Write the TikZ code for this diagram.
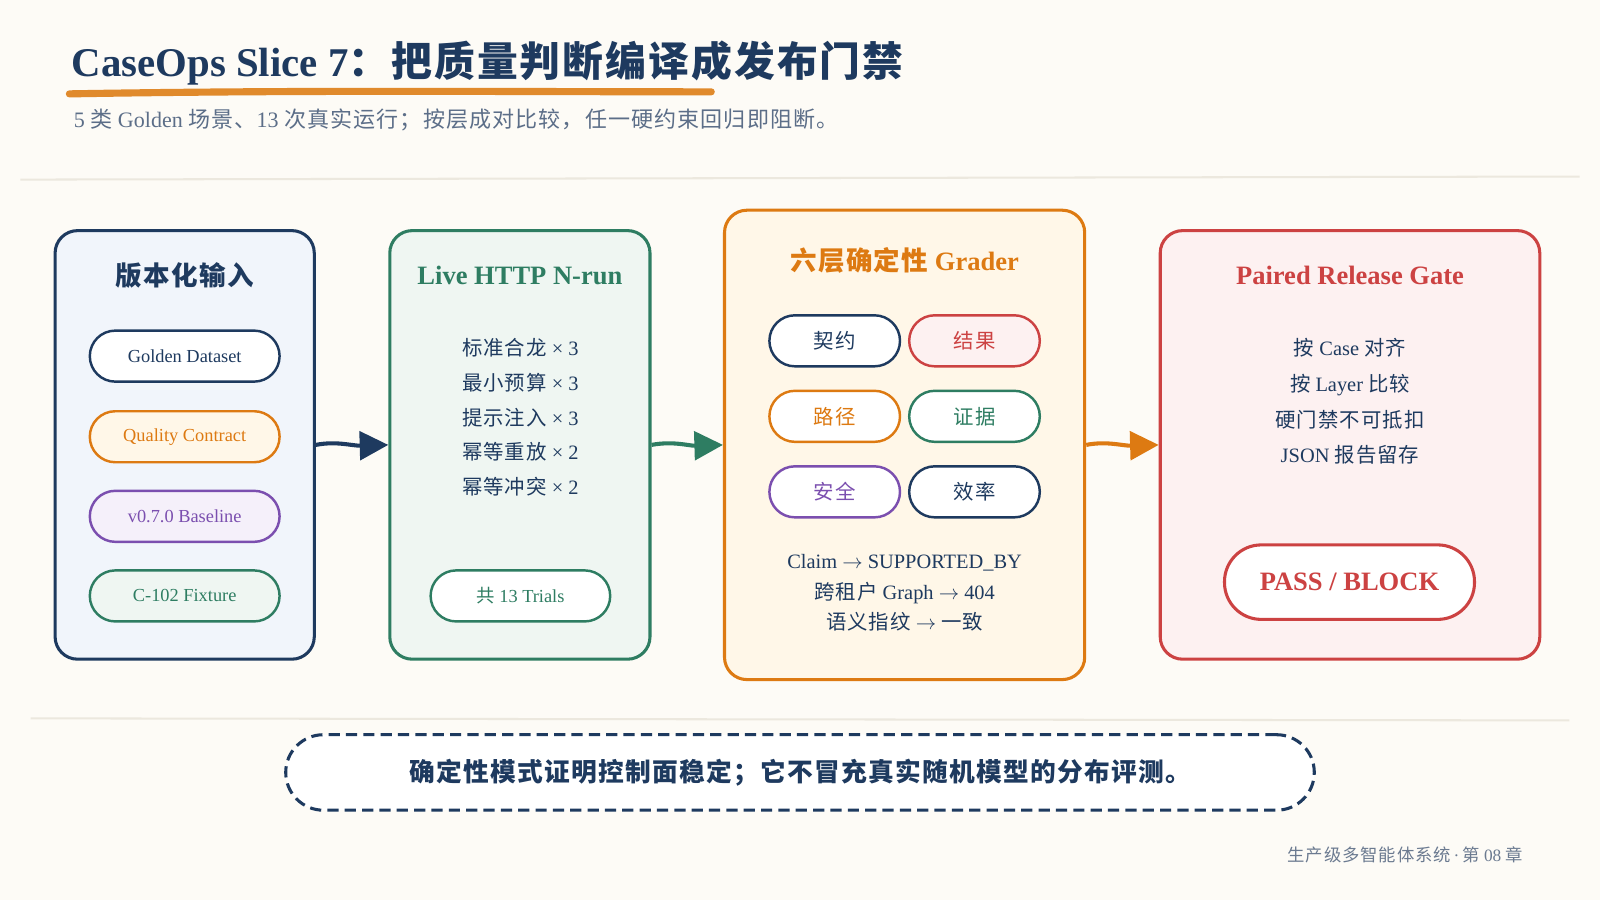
\documentclass[tikz,border=0pt]{standalone}
\usepackage{fontspec}
\setmainfont{Liberation Serif}
\newfontfamily\cjk{Noto Sans CJK SC}[LetterSpace=5]
\usetikzlibrary{arrows.meta}
\newcommand\zh[1]{{\cjk #1}}
\definecolor{bg}{HTML}{FDFBF6}
\definecolor{navy}{HTML}{1E3A5F}
\definecolor{navybg}{HTML}{F1F5FB}
\definecolor{grn}{HTML}{2E7D62}
\definecolor{grnbg}{HTML}{EFF6F2}
\definecolor{org}{HTML}{DD7A12}
\definecolor{orgbg}{HTML}{FFF7E8}
\definecolor{brush}{HTML}{E08A2C}
\definecolor{rd}{HTML}{CC4242}
\definecolor{rdbg}{HTML}{FDF1F1}
\definecolor{pur}{HTML}{7B4FAF}
\definecolor{purbg}{HTML}{F5F0FA}
\definecolor{gray}{HTML}{5C6E88}
\definecolor{foot}{HTML}{6B7A90}
\definecolor{sep}{HTML}{ECE8DE}
\begin{document}
\begin{tikzpicture}[x=0.5pt,y=-0.5pt,
  bigbox/.style={draw, line width=1.5pt, rounded corners=11pt, inner sep=0pt},
  pill/.style={draw, line width=1.2pt, rounded corners=12.5pt, minimum height=25pt, inner sep=0pt, font=\fontsize{9}{11}\selectfont},
  boxtitle/.style={font=\fontsize{13}{15}\selectfont\bfseries},
  body/.style={align=center, text=navy},
  conn/.style={line width=2pt, -{Triangle[length=14pt,width=14pt]}},
]
\fill[bg] (0,0) rectangle (1568,882);
\useasboundingbox (0,0) rectangle (1568,882);

% title
\node[anchor=base west, inner sep=0pt, text=navy, font=\fontsize{20}{22}\selectfont\bfseries] (title) at (70,75)
  {CaseOps Slice 7\zh{：把质量判断编译成发布门禁}};
\draw[brush, line width=3.5pt, line cap=round] (68,92) .. controls (300,88) and (500,90) .. (697,90);
\node[anchor=base west, inner sep=0pt, text=gray, font=\fontsize{10.8}{13}\selectfont] (sub) at (72,125)
  {5 \zh{类} Golden \zh{场景、}13 \zh{次真实运行；按层成对比较，任一硬约束回归即阻断。}};
\draw[sep, line width=1pt] (20,176) -- (1548,173);
\draw[sep, line width=1pt] (30,704) -- (1538,706);

% box 1
\node[bigbox, draw=navy, fill=navybg, minimum width=127pt, minimum height=210pt] (b1) at (181,436) {};
\node[boxtitle, text=navy] (t1) at (181,270) {\zh{版本化输入}};
\node[pill, draw=navy, fill=white, text=navy, minimum width=93pt] (p1) at (181,349) {Golden Dataset};
\node[pill, draw=org, fill=orgbg, text=org, minimum width=93pt] (p2) at (181,428) {Quality Contract};
\node[pill, draw=pur, fill=purbg, text=pur, minimum width=93pt] (p3) at (181,506) {v0.7.0 Baseline};
\node[pill, draw=grn, fill=grnbg, text=grn, minimum width=93pt] (p4) at (181,584) {C-102 Fixture};

% box 2
\node[bigbox, draw=grn, fill=grnbg, minimum width=127.5pt, minimum height=210pt] (b2) at (509.5,436) {};
\node[boxtitle, text=grn] (t2) at (509.5,270) {Live HTTP N-run};
\node[body, font=\fontsize{10}{17}\selectfont] (l2) at (510,409) {%
  \zh{标准合龙} × 3\\ \zh{最小预算} × 3\\ \zh{提示注入} × 3\\ \zh{幂等重放} × 2\\ \zh{幂等冲突} × 2};
\node[pill, draw=grn, fill=white, text=grn, minimum width=88pt] (p5) at (510,584) {\zh{共} 13 Trials};

% box 3
\node[bigbox, draw=org, fill=orgbg, minimum width=176.5pt, minimum height=230pt] (b3) at (886.5,436) {};
\node[boxtitle, text=org] (t3) at (886.5,255) {\zh{六层确定性} Grader};
\node[pill, draw=navy, fill=white, text=navy, minimum width=64pt, font=\fontsize{10}{12}\selectfont] (g1) at (818,334) {\zh{契约}};
\node[pill, draw=rd, fill=rdbg, text=rd, minimum width=64pt, font=\fontsize{10}{12}\selectfont] (g2) at (955,334) {\zh{结果}};
\node[pill, draw=org, fill=white, text=org, minimum width=64pt, font=\fontsize{10}{12}\selectfont] (g3) at (818,408) {\zh{路径}};
\node[pill, draw=grn, fill=white, text=grn, minimum width=64pt, font=\fontsize{10}{12}\selectfont] (g4) at (955,408) {\zh{证据}};
\node[pill, draw=pur, fill=white, text=pur, minimum width=64pt, font=\fontsize{10}{12}\selectfont] (g5) at (818,482) {\zh{安全}};
\node[pill, draw=navy, fill=white, text=navy, minimum width=64pt, font=\fontsize{10}{12}\selectfont] (g6) at (955,482) {\zh{效率}};
\node[body, font=\fontsize{10}{15}\selectfont] (l3) at (886.5,581) {%
  Claim $\rightarrow$ SUPPORTED\_BY\\ \zh{跨租户} Graph $\rightarrow$ 404\\ \zh{语义指纹} $\rightarrow$ \zh{一致}};

% box 4
\node[bigbox, draw=rd, fill=rdbg, minimum width=186pt, minimum height=210pt] (b4) at (1323,436) {};
\node[boxtitle, text=rd] (t4) at (1323,270) {Paired Release Gate};
\node[body, font=\fontsize{10}{17.5}\selectfont] (l4) at (1323,393.5) {%
  \zh{按} Case \zh{对齐}\\ \zh{按} Layer \zh{比较}\\ \zh{硬门禁不可抵扣}\\ JSON \zh{报告留存}};
\node[draw=rd, line width=1.5pt, fill=white, text=rd, rounded corners=18pt, minimum width=122.5pt, minimum height=36.5pt, inner sep=0pt, font=\fontsize{13}{15}\selectfont\bfseries] (gate) at (1322.5,570.5) {PASS / BLOCK};

% connectors
\draw[conn, navy] (b1.east) .. controls (330,432) and (345,437) .. (b2.west);
\draw[conn, grn] (b2.east) .. controls (660,432) and (675,437) .. (b3.west);
\draw[conn, org] (b3.east) .. controls (1085,432) and (1100,437) .. (b4.west);

% bottom note
\node[draw=navy, dash pattern=on 5.5pt off 3pt, line width=1.5pt, fill=white, rounded corners=18.5pt, minimum width=504pt, minimum height=37pt, inner sep=0pt, text=navy, font=\fontsize{12.6}{15}\selectfont\bfseries] (note) at (784,757)
  {\zh{确定性模式证明控制面稳定；它不冒充真实随机模型的分布评测。}};

% footer
\node[anchor=base east, inner sep=0pt, text=foot, font=\fontsize{8.5}{10}\selectfont] (footer) at (1493,844)
  {\zh{生产级多智能体系统}\,·\,\zh{第} 08 \zh{章}};
\end{tikzpicture}
\end{document}
